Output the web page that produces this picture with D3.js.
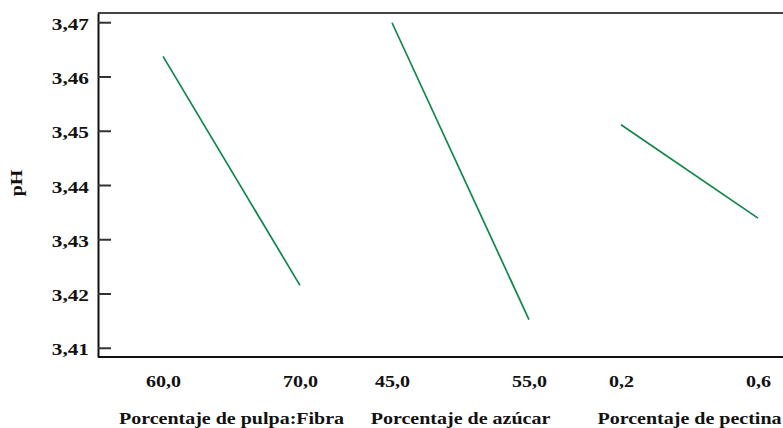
<!DOCTYPE html>
<html>
<head>
<meta charset="utf-8">
<script src="https://cdn.jsdelivr.net/npm/d3@7"></script>
<style>
  html, body { margin: 0; padding: 0; background: #fff; }
  svg { display: block; }
</style>
</head>
<body>
<svg id="chart" width="783" height="428"></svg>
<script>
// Main effects on pH: mean response at the low and high level of each factor
const factors = ["Porcentaje de pulpa:Fibra", "Porcentaje de azúcar", "Porcentaje de pectina"];
const lowLevels = [60.0, 45.0, 0.2];
const highLevels = [70.0, 55.0, 0.6];
const meanAtLow = [3.4637, 3.4699, 3.4511];
const meanAtHigh = [3.4215, 3.4152, 3.4339];
const yTicks = [3.41, 3.42, 3.43, 3.44, 3.45, 3.46, 3.47];
const yDomain = [3.4083, 3.4717];
const yTitle = "pH";

const locale = d3.formatLocale({ decimal: ",", thousands: ".", grouping: [3], currency: ["", ""] });
const fmtY = locale.format(".2f");
const fmtX = locale.format(".1f");

const FONT = "'Liberation Serif', 'Times New Roman', Times, serif";

const svg = d3.select("#chart");
const margin = { left: 98, top: 13, right: -2, bottom: 71 };
const W = +svg.attr("width"), H = +svg.attr("height");
const x0 = margin.left, x1 = W - margin.right;
const yTop = margin.top, yBot = H - margin.bottom;
const stretch = 1.25;
const lineColor = "#10864a";

const y = d3.scaleLinear().domain(yDomain).range([yBot, yTop]);
const band = d3.scaleBand().domain(factors).range([x0, x1]).padding(0);
const innerLo = 0.284, innerHi = 0.882;

// inner scale for each factor panel
const xs = factors.map((f, i) =>
  d3.scaleLinear()
    .domain([lowLevels[i], highLevels[i]])
    .range([band(f) + innerLo * band.bandwidth(), band(f) + innerHi * band.bandwidth()])
);

function styleText(sel, size) {
  sel.attr("font-family", FONT)
    .style("font-family", FONT)
    .style("font-weight", "bold")
    .style("font-size", size + "px")
    .style("fill", "#111");
}

// frame: top and bottom rules
svg.append("line").attr("x1", x0).attr("x2", W).attr("y1", yTop).attr("y2", yTop)
  .attr("stroke", "#444").attr("stroke-width", 2);
svg.append("line").attr("x1", x0).attr("x2", W).attr("y1", yBot).attr("y2", yBot)
  .attr("stroke", "#111").attr("stroke-width", 2);

// y axis with inward ticks
const yAxis = svg.append("g").attr("transform", `translate(${x0},0)`)
  .call(d3.axisLeft(y).tickValues(yTicks).tickFormat(fmtY)
    .tickSizeInner(-13).tickSizeOuter(0).tickPadding(9));
yAxis.attr("font-family", null);
yAxis.select(".domain").attr("stroke", "#111").attr("stroke-width", 2);
yAxis.selectAll(".tick line").attr("stroke", "#333").attr("stroke-width", 2);
yAxis.selectAll(".tick text")
  .attr("x", null).attr("dy", null)
  .attr("transform", `translate(-9,7) scale(${stretch},1)`)
  .call(styleText, 17);

// x axes, one per factor panel
factors.forEach((f, i) => {
  const g = svg.append("g").attr("transform", `translate(0,${yBot})`)
    .call(d3.axisBottom(xs[i]).tickValues([lowLevels[i], highLevels[i]])
      .tickFormat(fmtX).tickSize(0).tickPadding(0));
  g.attr("font-family", null);
  g.select(".domain").remove();
  g.selectAll(".tick text")
    .attr("y", null).attr("dy", null)
    .attr("transform", `translate(0,30) scale(${stretch},1)`)
    .call(styleText, 16);

  // factor title centred under its panel
  const cx = (xs[i].range()[0] + xs[i].range()[1]) / 2;
  svg.append("text")
    .attr("transform", `translate(${cx},${H - 4}) scale(${stretch},1)`)
    .attr("text-anchor", "middle")
    .call(styleText, 16)
    .text(f);

  // effect line
  const pts = [[lowLevels[i], meanAtLow[i]], [highLevels[i], meanAtHigh[i]]];
  svg.append("path")
    .datum(pts)
    .attr("fill", "none")
    .attr("stroke", lineColor)
    .attr("stroke-width", 1.7)
    .attr("d", d3.line().x(d => xs[i](d[0])).y(d => y(d[1])));
});

// y title
svg.append("text")
  .attr("transform", `translate(22,${(yTop + yBot) / 2 - 2}) rotate(-90) scale(${stretch},1)`)
  .attr("text-anchor", "middle")
  .call(styleText, 16)
  .text(yTitle);
</script>
</body>
</html>
